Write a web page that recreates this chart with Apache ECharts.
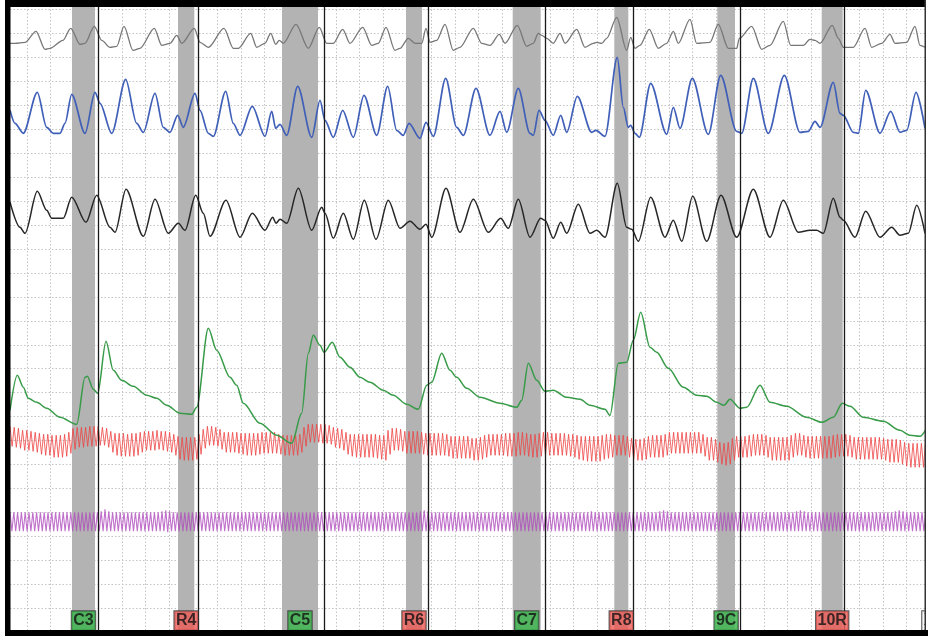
<!DOCTYPE html>
<html><head><meta charset="utf-8">
<script src="https://cdn.jsdelivr.net/npm/echarts@6/dist/echarts.min.js"></script>
<style>html,body{margin:0;padding:0;background:#fff}#c{width:928px;height:636px}</style>
</head><body><div id="c"></div>
<script>
// time axis: samples; vertical axis: channel amplitude units
const grayTrace = [[7,589],[12,589],[22,590],[33,601],[42,583],[47,584],[60,592],[67.7,604],[77,588],[82,589],[91.3,606],[98.7,592],[107,585],[113.7,586],[121,606],[130,582],[137,584],[151.3,604],[158.7,587],[167,589],[173.7,597],[178.7,589],[191.3,604],[197,590],[205.3,585],[221,604],[230.3,584],[235.3,584],[247.7,599],[253.7,585],[262,589],[267.7,599],[272.7,588],[276.3,592],[280.3,589],[293,608],[305.3,584],[316.3,605],[323.7,589],[330.3,589],[339.7,603],[347,589],[359.7,605],[368.7,587],[375.3,589],[383,605],[392,582],[397,584],[405.3,594],[412,589],[418.7,589],[423,604],[427,590],[433.7,592],[442,608],[450.3,582],[457,585],[470.3,604],[478.7,589],[487,587],[496.3,598],[502,589],[514.3,607],[523.7,586],[530.3,589],[535.3,599],[538.7,597],[543.7,594],[550.3,589],[557,599],[562,589],[573.7,603],[582,585],[590.3,589],[593.7,590],[598.7,589],[603.7,594],[613.7,615],[623.7,582],[627.7,595],[632,584],[637,587],[646.3,603],[655.3,584],[663.7,589],[670.3,601],[675.3,589],[687,613],[693.7,589],[707,590],[715.3,608],[725.3,584],[733.7,584],[736.3,594],[748.7,606],[758.7,583],[767,587],[780.3,611],[787.7,587],[800.3,587],[807,593],[812,592],[817,589],[829.3,607],[835.3,594],[840.3,585],[850.3,585],[862,604],[868.7,585],[878.7,589],[887,598],[892,589],[903.7,590],[912,606],[917,587],[922,585]];

const blueTrace = [[7,522],[12,509],[20.3,499],[34.3,540],[43.7,505],[50.3,499],[57,499],[62,509],[68.7,538],[82,499],[92,540],[97,529],[108.7,499],[122.7,553],[133.7,509],[140.3,500],[152,539],[160.3,505],[167,500],[174.7,517],[180.3,505],[192,539],[197,522],[205.3,499],[210.3,496],[222.7,541],[230.3,509],[237,497],[249.3,526],[262,496],[268.7,521],[272.7,504],[277,508],[283.7,497],[294.7,546],[308.7,495],[317,532],[322,512],[330.3,495],[339.7,522],[350.3,495],[361,537],[373.7,497],[384.7,546],[393.7,502],[400.3,497],[406,509],[417,494],[423,510],[430.3,496],[442.7,554],[453.7,505],[460.3,497],[473,544],[487,497],[497,521],[503.7,500],[515.3,544],[527,499],[530.3,497],[536,522],[542,512],[550.3,497],[557.7,517],[563.7,500],[574.3,536],[588.7,500],[593,502],[602,496],[614.3,575],[620.3,525],[625.3,505],[627.7,507],[632,499],[636.3,495],[647.7,549],[663.7,498],[670.3,525],[677,504],[689.3,554],[705.3,498],[717.7,557],[733.7,501],[738.7,499],[750.3,554],[765.3,499],[781.3,557],[797,500],[805.3,501],[812,511],[817,505],[830.3,550],[837,519],[840.3,517],[850.3,500],[855.3,499],[862.7,542],[877,499],[887.7,521],[897,500],[903.7,502],[913,540],[922,504]];

const blackTrace = [[7,430],[17,405],[22,399],[34.3,441],[43.7,422],[48.7,414],[60.3,414],[68.7,435],[83,410],[93.7,437],[107,405],[112,400],[123,443],[140.3,396],[152,433],[165.3,399],[175.3,409],[182,402],[192.7,437],[200.3,419],[207,396],[223,432],[237,395],[249.3,419],[262,402],[269.7,415],[273,409],[277,413],[283.7,409],[295.3,444],[308.7,402],[318.7,425],[322,419],[330.3,394],[340.3,419],[350.3,393],[361.3,432],[373,393],[385.3,432],[397,404],[407,411],[417,403],[423,408],[428.7,395],[443,444],[457,400],[470.3,433],[485.3,400],[497.7,414],[505.3,404],[515.3,433],[527,395],[537.7,414],[542,412],[550.3,394],[557.7,410],[563.7,399],[575.3,428],[587,399],[593.7,402],[602,395],[614.3,449],[623.7,405],[628.7,403],[635.3,391],[647.7,435],[662,395],[670.3,412],[678.7,391],[689.7,436],[703.7,391],[718,437],[733.7,395],[750.3,443],[767,395],[780.3,432],[795.3,400],[807,402],[813.7,402],[820.3,399],[830.3,434],[837,415],[840.3,412],[852,395],[862.7,421],[877,395],[888.7,405],[897,397],[905.3,399],[913.7,427],[922,399]];

const greenTrace = [[7,222],[14.3,257],[20.3,245],[25.3,234],[33.7,230],[43.7,224],[57,215],[73.7,208],[82,255],[84.3,256],[90.3,243],[94.7,239],[103,291],[110.3,262],[118.7,252],[130.3,246],[143.7,237],[153.7,234],[163.7,227],[177,219],[188.7,218],[193.7,225],[205.3,304],[213.7,282],[227,255],[233.7,247],[240.3,229],[257,209],[273.7,197],[288.7,189],[298.7,219],[305.3,279],[310.3,297],[317,287],[321,280],[329.3,290],[337,275],[347,265],[357,255],[367,250],[380.3,242],[390.3,237],[403.7,228],[415.3,223],[423.7,247],[428.7,250],[438.7,279],[447,262],[453.7,255],[463.7,244],[477,235],[497,229],[513.7,225],[518.7,232],[525.3,269],[533.7,252],[542,241],[550.3,242],[563.7,235],[577,233],[587,227],[602,223],[607,217],[615.3,269],[623.7,270],[630.3,292],[637.7,320],[647,285],[653.7,280],[665.3,264],[680.3,245],[693.7,237],[703.7,236],[713.7,230],[721,227],[727,233],[737,224],[743.7,225],[757,247],[767,230],[783.7,226],[803.7,215],[818.7,210],[830.3,215],[839.3,229],[847,226],[860.3,215],[880.3,211],[897,202],[907,197],[917,196],[923,203]];

// cardio: one peak and one trough per beat, sampled every half beat
const redStart = 7;
const redHalfStep = 2.1;
const redPeaks = [206,205,204,202,202,201,200,199,198,198,
197,197,197,198,200,204,205,205,205,206,
206,206,205,204,201,199,199,199,198,199,
199,200,201,201,201,202,201,201,200,198,
196,195,195,195,195,198,203,206,206,205,
203,200,200,200,200,199,199,199,199,199,
200,200,200,200,198,197,197,197,197,198,
205,208,208,208,208,208,207,205,204,203,
200,198,198,198,198,198,198,198,197,197,
202,204,204,203,201,201,201,201,200,199,
199,199,199,199,198,196,196,196,196,196,
194,194,195,197,198,198,198,198,199,199,
199,200,200,199,198,198,199,200,200,199,
199,199,199,198,198,197,196,196,196,196,
196,197,198,198,197,197,197,196,194,193,
193,194,196,197,197,197,198,200,200,200,
200,200,200,200,200,198,195,195,193,190,
189,190,194,196,196,196,197,198,198,198,
197,195,195,195,195,195,197,199,199,197,
196,196,196,196,196,196,197,198,198,198,
197,195,195,195,195,195,195,195,194,193,
193,193,192,190,189,189,189,189,192,195];
const redTroughs = [186,185,184,182,182,181,180,178,177,177,
175,175,175,176,179,183,185,185,186,186,
186,187,187,185,180,177,176,176,176,176,
177,180,182,182,182,183,182,181,180,177,
173,172,172,172,173,178,184,187,187,186,
183,180,180,180,179,178,177,177,177,178,
179,179,179,179,178,177,177,177,177,180,
186,190,190,190,189,189,188,185,184,182,
178,176,175,175,175,175,175,174,173,172,
178,182,182,181,179,179,179,179,178,177,
177,177,177,177,176,174,174,174,174,174,
172,172,173,175,177,177,177,177,176,176,
176,177,177,176,175,175,176,177,177,177,
177,177,177,176,175,173,172,171,171,171,
171,173,174,175,177,177,177,175,173,172,
172,173,175,175,175,175,177,179,179,179,
179,179,179,179,179,176,172,172,170,168,
167,168,172,175,175,175,176,177,177,177,
175,172,172,172,172,172,175,177,177,175,
174,174,174,174,174,174,175,176,176,176,
175,173,173,173,173,173,173,173,172,170,
170,170,168,166,165,165,165,165,170,177];

// activity sensor
const purpleStart = 7;
const purpleHalfStep = 1.9;
const purplePeaks = [120,120,120,120,120,120,120,120,120,120,120,120,120,120,120,120,120,120,120,120,
120,120,120,120,121,123,121,120,120,120,120,120,120,120,120,120,120,120,120,120,
121,122,121,120,120,120,120,120,120,120,120,120,120,120,120,120,120,120,120,120,
120,120,120,120,120,120,120,120,120,120,120,120,120,120,120,120,120,120,120,120,
120,120,120,120,120,120,120,120,120,120,120,120,120,120,120,120,120,120,120,120,
120,120,120,120,120,120,120,120,121,122,121,120,120,120,120,120,120,120,120,120,
120,120,120,120,120,120,120,120,120,120,120,120,120,120,120,120,120,120,120,120,
120,120,120,120,120,120,120,120,120,120,120,120,120,121,120,120,120,120,120,120,
120,120,120,120,120,120,120,120,120,120,120,121,122,121,120,120,120,120,120,120,
120,120,120,120,120,120,120,120,120,120,120,120,120,120,120,120,120,120,120,120,
120,120,120,120,120,120,120,121,122,121,120,120,120,120,120,120,120,120,120,120,
120,120,120,120,120,120,120,120,120,120,120,120,120,121,122,121,120,120,120,120,
120,120];
const purpleTroughs = [101,101,101,101,101,101,101,101,101,101,101,101,101,101,101,101,101,101,101,101,
101,101,101,101,101,101,101,101,101,101,101,101,101,101,101,101,101,101,101,101,
101,100,101,101,101,101,101,101,101,101,101,101,101,101,101,101,101,101,101,101,
101,101,101,101,101,101,101,101,101,101,101,101,101,101,101,101,101,101,101,101,
101,101,101,101,101,101,101,101,101,101,101,101,101,101,101,101,101,101,101,101,
101,101,101,101,101,101,101,101,101,101,101,101,101,101,101,101,101,101,101,101,
101,101,101,101,101,101,101,101,101,101,101,101,101,101,101,101,101,101,101,101,
101,101,101,101,101,101,101,101,101,101,101,101,101,101,101,101,101,101,101,101,
101,101,101,101,101,101,101,101,101,101,101,101,101,101,101,101,101,101,101,101,
101,101,101,101,101,101,101,101,101,101,101,101,101,101,101,101,101,101,101,101,
101,101,101,101,101,101,101,101,101,101,101,101,101,101,101,101,101,101,101,101,
101,101,101,101,101,101,101,101,101,101,101,101,101,101,101,101,101,101,101,101,
101,101];

// question events
const eventNames = ['C3','R4','C5','R6','C7','R8','9C','10R'];
const eventKinds = ['C','R','C','R','C','R','C','R'];
const bandStart = [69,175,279,403,509.7,611.3,714.3,818.7];
const bandEnd = [92,191.3,315,419,537.7,625.3,732,839.7];
const eventLines = [95.7,195,321.3,425.3,542,630,737,841.5];
const endMarker = {name:'XX', time:918.7};

function zigzag(start, half, peaks, troughs){
  const d = [];
  for (let i = 0; i < peaks.length; i++) {
    d.push([start + 2*i*half, peaks[i]]);
    d.push([start + (2*i+1)*half, troughs[i]]);
  }
  return d;
}

const chart = echarts.init(document.getElementById('c'), null, {renderer:'canvas'});
const traceBase = {type:'line', symbol:'none', showSymbol:false, smooth:0.3, smoothMonotone:'x', clip:true, z:3, silent:true, animation:false};
const labelBase = {show:true, position:'inside', formatter:'{b}', color:'#111', fontFamily:'Liberation Sans, Arial, sans-serif', fontWeight:'bold', fontSize:16, lineHeight:17, padding:[1,1.5,1,1.5], borderColor:'#333', borderWidth:1};

const labelData = eventNames.map((n,i)=>({
  name:n,
  value:[(bandStart[i]+bandEnd[i])/2, 11.5],
  label:{backgroundColor: eventKinds[i]==='C' ? '#38b54a' : '#ee5a55'}
}));
labelData.push({name:endMarker.name, value:[endMarker.time, 11.5], label:{backgroundColor:'#fff', position:'right', distance:0}});

chart.setOption({
  animation:false,
  backgroundColor:'#fff',
  grid:{left:3, right:3, top:6, bottom:3.7},
  xAxis:{type:'value', min:0, max:922, interval:23.78,
    axisLine:{show:false}, axisTick:{show:false}, axisLabel:{show:false},
    splitLine:{show:true, lineStyle:{color:'#c4c4c4', width:1, type:[1.5,2]}}},
  yAxis:{type:'value', min:0, max:626.3, interval:23.96,
    axisLine:{show:false}, axisTick:{show:false}, axisLabel:{show:false},
    splitLine:{show:true, lineStyle:{color:'#c4c4c4', width:1, type:[1.5,2]}}},
  series:[
    {type:'line', name:'events', data:[], z:1, silent:true,
      markArea:{silent:true, itemStyle:{color:'#b3b3b3', opacity:1},
        data: bandStart.map((s,i)=>[{xAxis:s},{xAxis:bandEnd[i]}])},
      markLine:{silent:true, symbol:'none', label:{show:false},
        lineStyle:{color:'#1a1a1a', width:1.3, type:'solid'},
        data: eventLines.map(x=>({xAxis:x}))}
    },
    Object.assign({}, traceBase, {name:'Activity', smooth:false, z:2, data:zigzag(purpleStart,purpleHalfStep,purplePeaks,purpleTroughs), lineStyle:{color:'#b04cbe', width:1.1, opacity:0.8}}),
    Object.assign({}, traceBase, {name:'Cardio', smooth:false, z:2, data:zigzag(redStart,redHalfStep,redPeaks,redTroughs), lineStyle:{color:'#ef4444', width:1.0, opacity:0.8}}),
    Object.assign({}, traceBase, {name:'EDA', data:greenTrace, lineStyle:{color:'#379b48', width:1.5}}),
    Object.assign({}, traceBase, {name:'Pneumo 3', data:blackTrace, lineStyle:{color:'#262626', width:1.5}}),
    Object.assign({}, traceBase, {name:'Pneumo 2', data:blueTrace, lineStyle:{color:'#3f5fb8', width:1.7}}),
    Object.assign({}, traceBase, {name:'Pneumo 1', data:grayTrace, lineStyle:{color:'#777777', width:1.3}}),
    {type:'scatter', name:'labels', z:5, silent:true, symbolSize:1, itemStyle:{color:'rgba(0,0,0,0)'},
      label:labelBase, data:labelData, clip:false}
  ],
  graphic:[
    {type:'rect', z:100, silent:true, shape:{x:0,y:0,width:5,height:636}, style:{fill:'#fff'}},
    {type:'rect', z:100, silent:true, shape:{x:5,y:0,width:5.5,height:636}, style:{fill:'#000'}},
    {type:'rect', z:100, silent:true, shape:{x:5,y:0,width:921,height:7}, style:{fill:'#000'}},
    {type:'rect', z:100, silent:true, shape:{x:5,y:630,width:923,height:6}, style:{fill:'#000'}},
    {type:'rect', z:100, silent:true, shape:{x:924.5,y:0,width:1.5,height:630}, style:{fill:'#333'}},
    {type:'rect', z:100, silent:true, shape:{x:926,y:0,width:2,height:630}, style:{fill:'#fff'}}
  ]
});
</script>
</body></html>
